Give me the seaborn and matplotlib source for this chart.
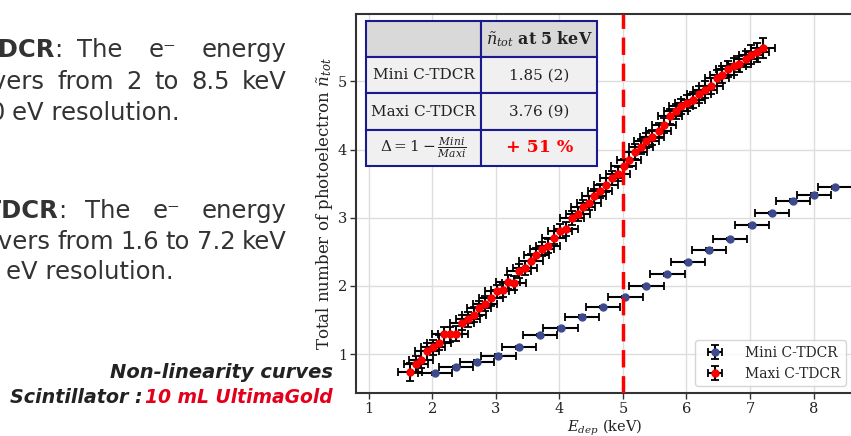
import matplotlib
matplotlib.use("Agg")
import matplotlib.pyplot as plt
import seaborn as sns
import numpy as np

# ---------------- data ----------------
mini_E = [2.04, 2.37, 2.70, 3.04, 3.37, 3.70, 4.02, 4.36, 4.69, 5.04,
          5.37, 5.70, 6.02, 6.35, 6.69, 7.03, 7.35, 7.68, 8.01, 8.34]
mini_n = [0.72, 0.81, 0.89, 0.98, 1.10, 1.28, 1.38, 1.55, 1.69, 1.84,
          2.00, 2.17, 2.35, 2.53, 2.69, 2.89, 3.07, 3.25, 3.34, 3.45]
mini_xerr = [0.27] * 20
mini_yerr = [0.02] * 20

maxi_E = [1.65, 1.74, 1.82, 1.92,
          2.01, 2.10, 2.19, 2.28, 2.37, 2.47, 2.56, 2.65, 2.74, 2.83, 2.92,
          3.02, 3.11, 3.19, 3.28, 3.37, 3.46, 3.55, 3.64, 3.73, 3.82, 3.92,
          4.01, 4.10, 4.20, 4.29, 4.37, 4.46, 4.55, 4.64, 4.74, 4.83, 4.92,
          5.01, 5.10, 5.19, 5.28, 5.37, 5.46, 5.56, 5.65, 5.74, 5.83, 5.92,
          6.01, 6.10, 6.20, 6.29, 6.38, 6.48, 6.56, 6.65, 6.74, 6.83, 6.93,
          7.02, 7.11, 7.20]
maxi_n = [0.74, 0.85, 0.92, 1.04,
          1.10, 1.17, 1.29, 1.29, 1.30, 1.46, 1.51, 1.58, 1.67, 1.74, 1.82,
          1.92, 1.94, 2.06, 2.04, 2.22, 2.26, 2.37, 2.46, 2.54, 2.59, 2.71,
          2.81, 2.84, 3.00, 3.06, 3.16, 3.22, 3.32, 3.39, 3.48, 3.58, 3.64,
          3.76, 3.85, 3.97, 4.04, 4.13, 4.18, 4.28, 4.36, 4.49, 4.56, 4.64,
          4.68, 4.73, 4.81, 4.88, 4.93, 5.05, 5.10, 5.18, 5.22, 5.26, 5.33,
          5.39, 5.43, 5.49]
maxi_xerr = [0.19] * 62
maxi_yerr = [0.13, 0.12, 0.12, 0.12,
             0.11, 0.11, 0.11, 0.11, 0.11, 0.11, 0.11, 0.11, 0.11, 0.11, 0.11,
             0.10, 0.10, 0.10, 0.10, 0.10, 0.10, 0.10, 0.10, 0.10, 0.10, 0.10,
             0.10, 0.10, 0.10, 0.10, 0.10, 0.10, 0.10, 0.10, 0.10, 0.10, 0.10,
             0.11, 0.11, 0.11, 0.11, 0.11, 0.11, 0.11, 0.11, 0.11, 0.11, 0.11,
             0.12, 0.12, 0.12, 0.12, 0.12, 0.12, 0.12, 0.12, 0.12, 0.12, 0.12,
             0.14, 0.14, 0.15]

xticks = [1, 2, 3, 4, 5, 6, 7, 8]
yticks = [1, 2, 3, 4, 5]

table_rows = ["", "Mini C-TDCR", "Maxi C-TDCR", r"$\Delta = 1 - \frac{Mini}{Maxi}$"]
table_vals = [r"$\tilde{n}_{tot}$ $\mathbf{at\ 5\ keV}$", "1.85 (2)", "3.76 (9)", "+ 51 %"]

# ---------------- style ----------------
sns.set_theme(style="whitegrid")
plt.rcParams["font.family"] = ["DejaVu Serif"]
plt.rcParams["mathtext.fontset"] = "dejavuserif"

W, H = 851, 436
fig = plt.figure(figsize=(W / 100, H / 100), dpi=100)
fig.patch.set_facecolor("white")


def fx(x):
    return x / W


def fy(y):
    return 1 - y / H


# axes placement (px): left 356, right 853, top 14, bottom 393
ax = fig.add_axes([fx(356), fy(393), (853 - 356) / W, (393 - 14) / H])
ax.set_facecolor("white")

ax.errorbar(mini_E, mini_n, xerr=mini_xerr, yerr=mini_yerr, fmt="o",
            color="#3d4a8e", markersize=5, ecolor="black", elinewidth=1.5,
            capsize=3, capthick=1.3, label="Mini C-TDCR", zorder=3)
ax.errorbar(maxi_E, maxi_n, xerr=maxi_xerr, yerr=maxi_yerr, fmt="o",
            color="red", markersize=5, ecolor="black", elinewidth=1.5,
            capsize=3, capthick=1.3, label="Maxi C-TDCR", zorder=3)

ax.axvline(5, color="red", linestyle=(0, (5, 2.5)), linewidth=2.5, zorder=4)

ax.set_xlim(0.80, 8.62)
ax.set_ylim(0.43, 5.99)
ax.set_xticks(xticks)
ax.set_yticks(yticks)
ax.grid(True, color="#dddddd", linewidth=1.0)
for s in ax.spines.values():
    s.set_color("#333333")
    s.set_linewidth(1.5)
ax.tick_params(axis="both", which="major", direction="out", length=4, width=1,
               color="#333333", labelsize=10.5, labelcolor="#222222",
               bottom=True, left=True, pad=2.5)
ax.set_xlabel(r"$E_{dep}$ (keV)", fontsize=10.5, color="#222222", labelpad=1)
ax.set_ylabel(r"Total number of photoelectron $\tilde{n}_{tot}$", fontsize=12,
              color="#222222", labelpad=2)

leg = ax.legend(loc="lower right", fontsize=10, frameon=True, framealpha=0.8,
                borderaxespad=0.5, handletextpad=1.2)
leg.get_frame().set_edgecolor("#cccccc")

# table
tab = ax.table(cellText=[[r, v] for r, v in zip(table_rows, table_vals)],
               cellLoc="center", bbox=[0.020, 0.599, 0.465, 0.383], zorder=5)
tab.auto_set_font_size(False)
for (r, c), cell in tab.get_celld().items():
    cell.set_edgecolor("#1a1a8c")
    cell.set_linewidth(1.5)
    cell.set_facecolor("#d9d9d9" if r == 0 else "#f0f0f0")
    cell.get_text().set_fontsize(11)
    cell.get_text().set_color("#222222")
    cell.get_text().set_fontfamily("DejaVu Serif")
tab[3, 1].get_text().set_color("red")
tab[3, 1].get_text().set_fontweight("bold")
tab[3, 1].get_text().set_fontsize(12.5)
tab[0, 1].get_text().set_fontsize(11.5)

# ---------------- slide text on the left ----------------
sfam = ["DejaVu Sans"]
fs = 17.5
tc = "#333333"
renderer = fig.canvas.get_renderer()


def t(x, y, s, ha="left", weight="normal", color=tc, size=fs, style="normal"):
    return fig.text(fx(x), fy(y), s, ha=ha, va="center", fontsize=size,
                    fontweight=weight, color=color, family=sfam, style=style)


def width(txt):
    return txt.get_window_extent(renderer=renderer).width


def justify(y, words, x0, x1, prefix=None, prefix_weight="normal"):
    """Lay words evenly between x0 (left of first) and x1 (right of last)."""
    objs = [t(0, y, w) for w in words]
    ws = [width(o) for o in objs]
    gap = (x1 - x0 - sum(ws)) / (len(words) - 1)
    x = x0
    for o, w in zip(objs, ws):
        o.set_x(fx(x))
        x += w + gap
    if prefix is not None:
        t(x0 - gap, y, prefix, ha="right", weight=prefix_weight)


# paragraph 1
t(54, 50, "Mini C-TDCR", ha="right", weight="bold")
t(54, 50, ":")
justify(50, ["The", "e\u207b", "energy"], 77, 287)
justify(82, ["from", "2", "to", "8.5", "keV"], 57, 287, prefix="range covers")
t(5, 113, "with 330", ha="right")
t(12, 113, "eV resolution.")

# paragraph 2
t(58, 211, "Maxi C-TDCR", ha="right", weight="bold")
t(58, 211, ":")
justify(211, ["The", "e\u207b", "energy"], 85, 287)
justify(242, ["from", "1.6", "to", "7.2", "keV"], 57, 287, prefix="range covers")
t(0, 272, "with 90", ha="right")
t(6, 272, "eV resolution.")

# caption
t(333, 372, "Non-linearity curves", ha="right", weight="bold", style="italic",
  size=14, color="#222222")
t(333, 397, "10 mL UltimaGold", ha="right", weight="bold", style="italic",
  size=13.5, color="#e3001b")
t(143, 397, "Scintillator :", ha="right", weight="bold", style="italic",
  size=13.8, color="#222222")

fig.savefig("out.png", dpi=100)
